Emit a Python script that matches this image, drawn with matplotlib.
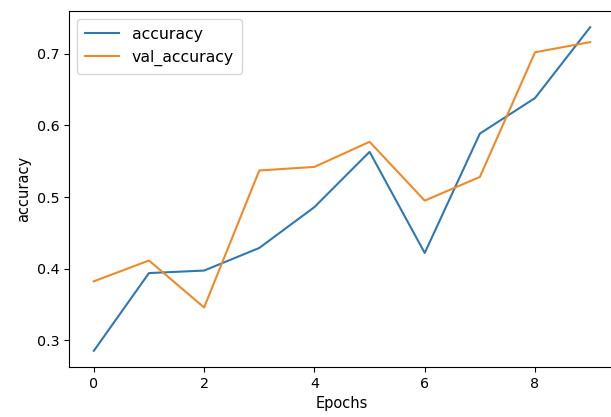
import matplotlib
matplotlib.use("Agg")
import matplotlib.pyplot as plt

epochs = list(range(10))
accuracy = [0.2856, 0.394, 0.3975, 0.429, 0.486, 0.563, 0.422, 0.5885, 0.638, 0.7368]
val_accuracy = [0.3825, 0.4115, 0.346, 0.537, 0.542, 0.577, 0.495, 0.528, 0.7018, 0.716]

fig = plt.figure(figsize=(6.11, 4.17), dpi=100)
ax = fig.add_axes([69/611, 50/417, (615-69)/611, (367-11)/417])
ax.plot(epochs, accuracy, label="accuracy", color="#2f78b0")
ax.plot(epochs, val_accuracy, label="val_accuracy", color="#f08a28")
ax.set_xlabel("Epochs", fontsize=10.5)
ax.set_ylabel("accuracy", fontsize=10.5)
ax.tick_params(labelsize=10.3)
ax.legend(loc="upper left", fontsize=11.3, handlelength=2.2, borderpad=0.5)
fig.savefig("out.png", dpi=100)
